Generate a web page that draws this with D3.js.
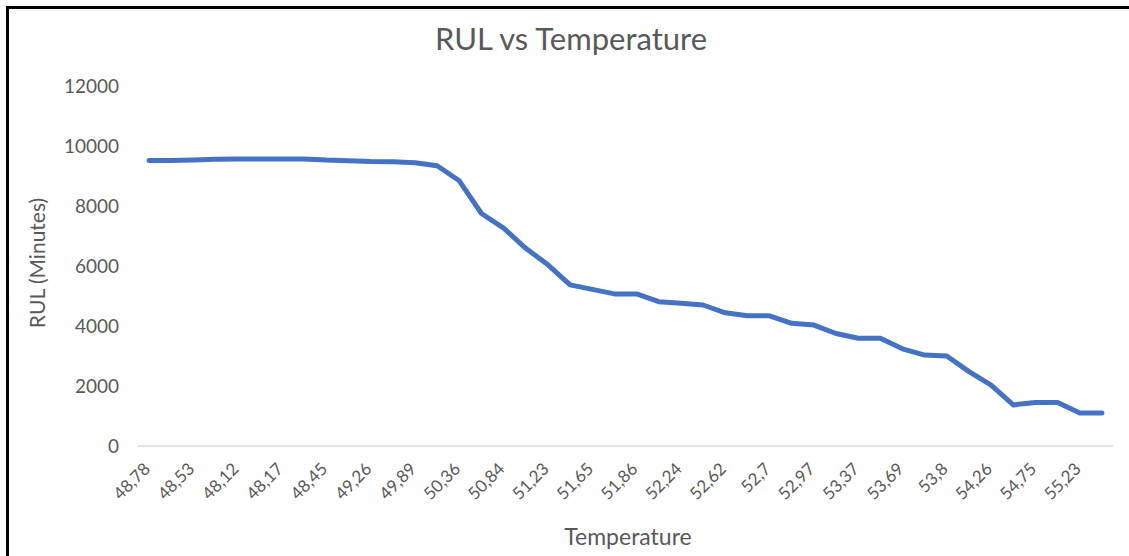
<!DOCTYPE html>
<html lang="en">
<head>
<meta charset="utf-8">
<title>RUL vs Temperature</title>
<script src="https://cdnjs.cloudflare.com/ajax/libs/d3/7.8.5/d3.min.js"></script>
<style>
body { margin: 0; background: #fff; }
text { font-family: Lato, "Open Sans", sans-serif; fill: #595959; }
.axis path, .axis line { stroke: none; }
.rul { fill: none; stroke: #4472C4; stroke-width: 5; stroke-linejoin: round; stroke-linecap: round; }
</style>
</head>
<body>
<div id="chart"></div>
<script>

const w = 1129;
const h = 556;

// Temperature labels shown on the axis (every other point)
const tempLabels = ["48,78", "48,53", "48,12", "48,17", "48,45", "49,26", "49,89", "50,36",
  "50,84", "51,23", "51,65", "51,86", "52,24", "52,62", "52,7", "52,97", "53,37", "53,69",
  "53,8", "54,26", "54,75", "55,23"];

// RUL in minutes, one value per measured point (44 points)
const rul = [9520, 9520, 9530, 9555, 9565, 9567, 9567, 9567, 9530, 9510, 9480, 9475, 9440, 9340,
  8840, 7750, 7260, 6590, 6040, 5370, 5220, 5070, 5070, 4810, 4760, 4700, 4440, 4340,
  4340, 4090, 4030, 3750, 3590, 3590, 3240, 3030, 3000, 2480, 2030, 1370, 1450, 1450,
  1100, 1100];

const yTicks = [0, 2000, 4000, 6000, 8000, 10000, 12000];

const svg = d3.select("#chart")
  .append("svg")
  .attr("width", w)
  .attr("height", h);

// frame round the picture
svg.append("rect")
  .attr("x", 7.5)
  .attr("y", 7.5)
  .attr("width", w + 10)
  .attr("height", h + 10)
  .attr("fill", "none")
  .attr("stroke", "#000")
  .attr("stroke-width", 3);

const xScale = d3.scaleBand()
  .domain(d3.range(rul.length))
  .range([138, 1113]);

const yScale = d3.scaleLinear()
  .domain([0, 12000])
  .range([446, 86]);

// baseline
svg.append("line")
  .attr("x1", 138)
  .attr("x2", 1113)
  .attr("y1", yScale(0))
  .attr("y2", yScale(0))
  .attr("stroke", "#d9d9d9")
  .attr("stroke-width", 1.5);

const yAxis = d3.axisLeft(yScale)
  .tickValues(yTicks)
  .tickSize(0)
  .tickPadding(0)
  .tickFormat(d3.format("d"));

svg.append("g")
  .attr("class", "axis")
  .attr("transform", "translate(119,0)")
  .call(yAxis)
  .selectAll("text")
  .style("font-size", "19px")
  .style("font-family", "Lato, sans-serif");

const xAxis = d3.axisBottom(xScale)
  .tickValues(d3.range(0, rul.length, 2))
  .tickSize(0)
  .tickFormat(i => tempLabels[i / 2]);

svg.append("g")
  .attr("class", "axis")
  .attr("transform", "translate(0," + yScale(0) + ")")
  .call(xAxis)
  .selectAll("text")
  .style("font-size", "17px")
  .style("font-family", "Lato, sans-serif")
  .attr("text-anchor", "end")
  .attr("dy", 0)
  .attr("transform", "translate(0,22) rotate(-45)");

const line = d3.line()
  .x((d, i) => xScale(i) + xScale.bandwidth() / 2)
  .y(d => yScale(d));

svg.append("path")
  .datum(rul)
  .attr("class", "rul")
  .attr("d", line);

// titles
svg.append("text")
  .attr("x", 571)
  .attr("y", 50)
  .attr("text-anchor", "middle")
  .style("font-size", "31px")
  .text("RUL vs Temperature");

svg.append("text")
  .attr("transform", "rotate(-90)")
  .attr("x", -263)
  .attr("y", 45)
  .attr("text-anchor", "middle")
  .style("font-size", "21px")
  .text("RUL (Minutes)");

svg.append("text")
  .attr("x", 628)
  .attr("y", 545)
  .attr("text-anchor", "middle")
  .style("font-size", "23px")
  .text("Temperature");

</script>
</body>
</html>
